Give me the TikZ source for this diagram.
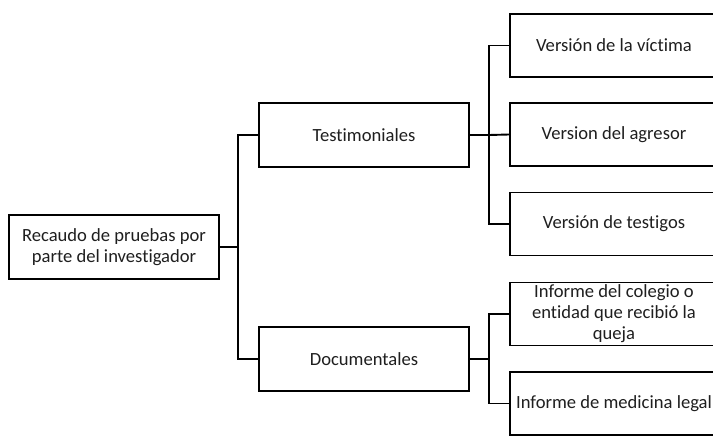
\documentclass[tikz,border=0pt]{standalone}
\usepackage{fontspec}
\setmainfont{Carlito}[Ligatures=NoCommon]
\begin{document}
\begin{tikzpicture}[x=1pt,y=-1pt,
  box/.style={draw=black,line width=1.9pt,fill=white,rectangle,align=center,
    inner sep=0pt,font=\fontsize{18.6}{21}\selectfont,text=black!88},
  wide/.style={box,minimum width=210pt,minimum height=64pt},
  leaf/.style={box,minimum width=208pt,minimum height=63pt},
  conn/.style={draw=black,line width=1.9pt}]
\useasboundingbox (0,0) rectangle (713,436);
\clip (0,0) rectangle (713,436);
\fill[white] (0,0) rectangle (713,436);
% nodes
\node[wide] (root) at (114,247) {Recaudo de pruebas por\\parte del investigador};
\node[wide] (test) at (364,135) {Testimoniales};
\node[wide] (doc) at (364,359) {Documentales};
\node[leaf] (v1) at (614,45.5) {Versión de la víctima};
\node[leaf] (v2) at (614,134.5) {Version del agresor};
\node[leaf] (v3) at (614,224) {Versión de testigos};
\node[leaf] (i1) at (614,314) {Informe del colegio o\\entidad que recibió la\\queja};
\node[leaf] (i2) at (614,403.5) {Informe de medicina legal};
% junctions
\coordinate (j0) at (238,247);
\coordinate (j1) at (489,135);
\coordinate (j2) at (489,359);
% connectors
\draw[conn] (root.east) -- (j0);
\draw[conn] (test.west) -| (j0) |- (doc.west);
\draw[conn] (test.east) -- (j1);
\draw[conn] (v1.west) -| (j1) |- (v3.west);
\draw[conn] (j1) -- (v2.west);
\draw[conn] (doc.east) -- (j2);
\draw[conn] (i1.west) -| (j2) |- (i2.west);
\end{tikzpicture}
\end{document}
